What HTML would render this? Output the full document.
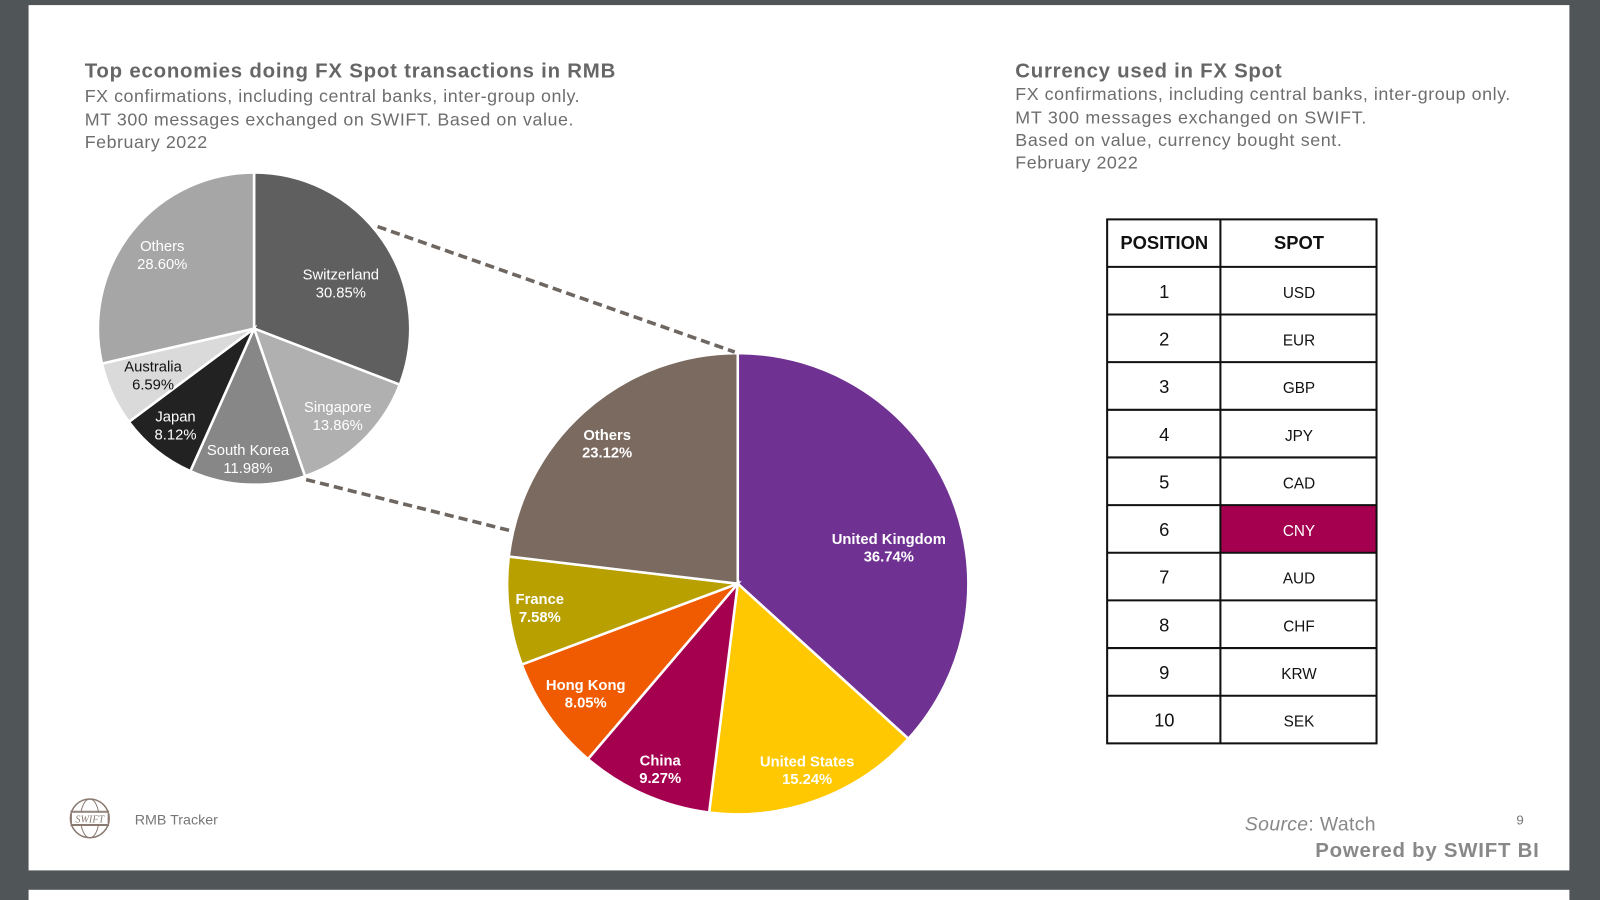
<!DOCTYPE html>
<html><head><meta charset="utf-8"><style>
html,body{margin:0;padding:0;background:#505558;width:1600px;height:900px;overflow:hidden}
svg{display:block;font-family:"Liberation Sans",Arial,sans-serif}
</style></head><body>
<svg id="s" width="1600" height="900" viewBox="0 0 1568 882" preserveAspectRatio="none">
<rect x="0" y="0" width="1568" height="882" fill="#505558"/>
<rect x="28" y="5" width="1510" height="848" fill="#fff"/>
<rect x="28" y="872" width="1510" height="20" fill="#fff"/>
<g fill="#6d6d6d" lengthAdjust="spacing">
<text x="83" y="76" font-size="20" font-weight="bold" fill="#666" textLength="520">Top economies doing FX Spot transactions in RMB</text>
<text x="83" y="100" font-size="17.5" textLength="485">FX confirmations, including central banks, inter-group only.</text>
<text x="83" y="123" font-size="17.5" textLength="479">MT 300 messages exchanged on SWIFT. Based on value.</text>
<text x="83" y="145" font-size="17.5" textLength="120">February 2022</text>
<text x="995" y="76" font-size="20" font-weight="bold" fill="#666" textLength="261">Currency used in FX Spot</text>
<text x="995" y="98" font-size="17.5" textLength="485">FX confirmations, including central banks, inter-group only.</text>
<text x="995" y="121" font-size="17.5" textLength="344">MT 300 messages exchanged on SWIFT.</text>
<text x="995" y="143" font-size="17.5" textLength="320">Based on value, currency bought sent.</text>
<text x="995" y="165" font-size="17.5" textLength="120">February 2022</text>
</g>
<g id="pies"></g>
<line x1="370" y1="222" x2="720" y2="345" stroke="#6e6660" stroke-width="3.5" stroke-dasharray="9,5"/>
<line x1="300" y1="470" x2="500" y2="520" stroke="#6e6660" stroke-width="3.5" stroke-dasharray="9,5"/>
<g id="labels" font-size="14.5" text-anchor="middle"></g>
<g id="tbl"></g>
<circle cx="88" cy="802" r="19" fill="none" stroke="#8a7a72" stroke-width="1.5"/>
<ellipse cx="88" cy="802" rx="9" ry="19" fill="none" stroke="#8a7a72" stroke-width="1"/>
<line x1="69" y1="795" x2="107" y2="795" stroke="#8a7a72"/><line x1="69" y1="809" x2="107" y2="809" stroke="#8a7a72"/>
<rect x="70" y="796" width="36" height="12" fill="#fff" stroke="#8a7a72"/>
<text x="88" y="806" font-size="10" font-style="italic" text-anchor="middle" fill="#8a7a72" font-family="Liberation Serif">SWIFT</text>
<text x="132" y="808" font-size="14" fill="#777">RMB Tracker</text>
<text x="1486" y="808" font-size="13" fill="#777">9</text>
<text x="1220" y="814" font-size="19" fill="#888" textLength="128" lengthAdjust="spacing"><tspan font-style="italic">Source</tspan>: Watch</text>
<text x="1289" y="840" font-size="20" font-weight="bold" fill="#888" textLength="219" lengthAdjust="spacing">Powered by SWIFT BI</text>
</svg>
<script>
var NS="http://www.w3.org/2000/svg";
function el(p,t,a,txt){var e=document.createElementNS(NS,t);for(var k in a)e.setAttribute(k,a[k]);if(txt!=null)e.textContent=txt;p.appendChild(e);return e;}
var pies=document.getElementById('pies'),lab=document.getElementById('labels');
function pie(cx,cy,r,data){var a=0;data.forEach(function(d){var a0=a,a1=a+d[1]/100*2*Math.PI;a=a1;
var x0=cx+r*Math.sin(a0),y0=cy-r*Math.cos(a0),x1=cx+r*Math.sin(a1),y1=cy-r*Math.cos(a1);
el(pies,'path',{d:'M'+cx+','+cy+'L'+x0+','+y0+'A'+r+','+r+' 0 '+((a1-a0)>Math.PI?1:0)+' 1 '+x1+','+y1+'Z',fill:d[2],stroke:'#fff','stroke-width':2.5});});}
pie(249,322,153,[["Switzerland",30.85,"#5f5f5f"],["Singapore",13.86,"#b0b0b0"],["South Korea",11.98,"#878787"],["Japan",8.12,"#222"],["Australia",6.59,"#dadada"],["Others",28.60,"#a6a6a6"]]);
pie(723,572,226,[["UK",36.74,"#6f3192"],["US",15.24,"#ffc800"],["China",9.27,"#a5004f"],["HK",8.05,"#f05a00"],["France",7.58,"#b8a000"],["Others",23.12,"#7a6a5f"]]);
[["Others","28.60%",159,246,"#fff",0],["Switzerland","30.85%",334,274,"#fff",0],["Singapore","13.86%",331,404,"#fff",0],["South Korea","11.98%",243,446,"#fff",0],["Japan","8.12%",172,413,"#fff",0],["Australia","6.59%",150,364,"#111",0],
["Others","23.12%",595,431,"#fff",1],["United Kingdom","36.74%",871,533,"#fff",1],["United States","15.24%",791,751,"#fff",1],["China","9.27%",647,750,"#fff",1],["Hong Kong","8.05%",574,676,"#fff",1],["France","7.58%",529,592,"#fff",1]].forEach(function(l){
var t=el(lab,'text',{x:l[2],y:l[3],fill:l[4],'font-weight':l[5]?'bold':'normal'});
el(t,'tspan',{x:l[2],dy:0},l[0]);el(t,'tspan',{x:l[2],dy:17.5},l[1]);});
var tb=document.getElementById('tbl');
var rows=["USD","EUR","GBP","JPY","CAD","CNY","AUD","CHF","KRW","SEK"];
var y0=215,hh=46.5,rh=46.7;
el(tb,'rect',{x:1196,y:y0+hh+5*rh,width:153,height:rh,fill:"#a5004f"});
el(tb,'text',{x:1141,y:244,'font-size':18,'font-weight':'bold','text-anchor':'middle',fill:'#111'},"POSITION");
el(tb,'text',{x:1273,y:244,'font-size':18,'font-weight':'bold','text-anchor':'middle',fill:'#111'},"SPOT");
rows.forEach(function(c,i){var y=y0+hh+i*rh;
el(tb,'text',{x:1141,y:y+rh/2+7,'font-size':18,'text-anchor':'middle',fill:'#111'},String(i+1));
el(tb,'text',{x:1273,y:y+rh/2+7,'font-size':15,'text-anchor':'middle',fill:i==5?'#fff':'#111'},c);
el(tb,'line',{x1:1085,x2:1349,y1:y,y2:y,stroke:'#111','stroke-width':2});});
el(tb,'rect',{x:1085,y:y0,width:264,height:hh+10*rh,fill:'none',stroke:'#111','stroke-width':2});
el(tb,'line',{x1:1196,x2:1196,y1:y0,y2:y0+hh+10*rh,stroke:'#111','stroke-width':2});
</script>
</body></html>
